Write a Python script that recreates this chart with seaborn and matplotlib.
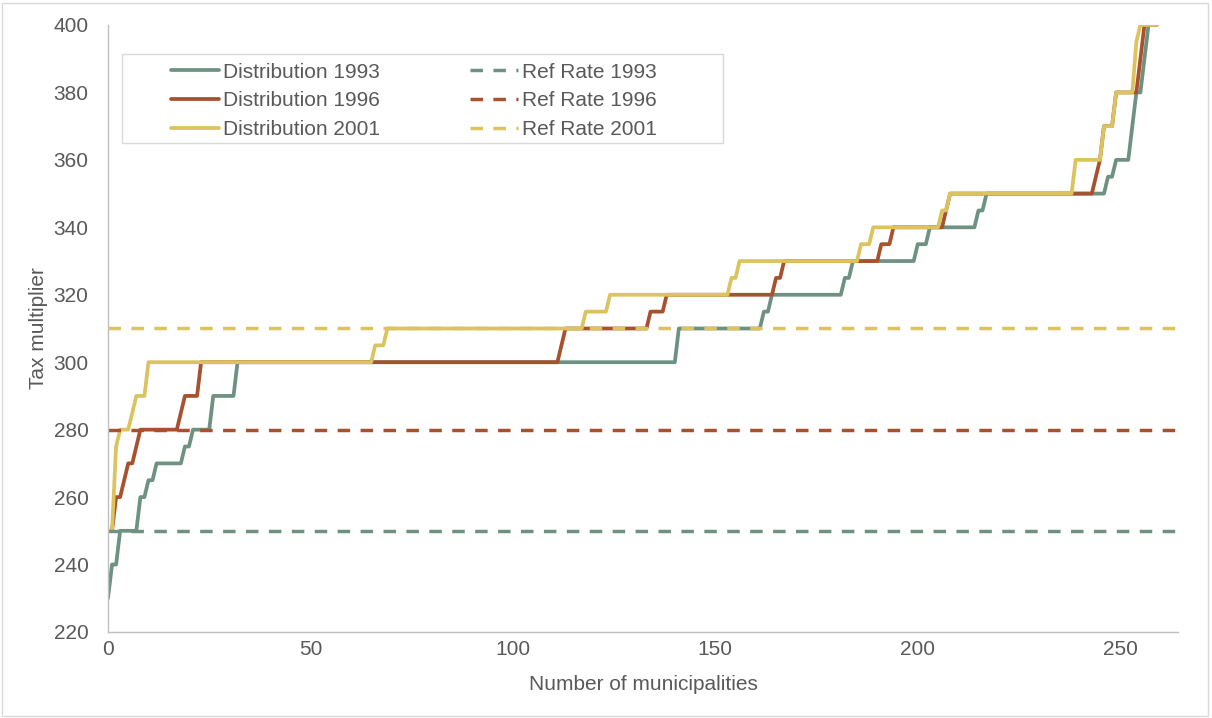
import numpy as np
import pandas as pd
import matplotlib
matplotlib.use("Agg")
import matplotlib.pyplot as plt
from matplotlib.patches import Rectangle
import seaborn as sns

# sorted tax multipliers per year, stored as (level, number of municipalities at that level)
levels_1993 = [230, 240, 250, 260, 265, 270, 275, 280, 290, 300, 310, 315, 320, 325,
               330, 335, 340, 345, 350, 355, 360, 370, 380, 390, 400]
counts_1993 = [1, 2, 5, 2, 2, 7, 2, 5, 6, 109, 21, 2, 18, 2,
               16, 3, 12, 2, 30, 2, 4, 1, 2, 1, 3]

levels_1996 = [250, 260, 265, 270, 275, 280, 285, 290, 300, 305, 310, 315, 320, 325,
               330, 335, 340, 345, 350, 355, 360, 370, 380, 390, 400]
counts_1996 = [2, 2, 1, 2, 1, 10, 1, 4, 89, 1, 21, 4, 27, 2,
               24, 3, 13, 1, 36, 1, 1, 3, 6, 1, 4]

levels_2001 = [250, 275, 280, 285, 290, 300, 305, 310, 315, 320, 325, 330, 335, 340,
               345, 350, 360, 370, 380, 395, 400]
counts_2001 = [2, 1, 3, 1, 3, 56, 3, 49, 6, 30, 2, 30, 3, 17,
               2, 31, 7, 3, 5, 1, 5]

years = ["1993", "1996", "2001"]
ref_rates = [250, 280, 310]
colors = ["#6E9282", "#A8512E", "#DCC35E"]
x_ticks = [0, 50, 100, 150, 200, 250]
y_ticks = [220, 240, 260, 280, 300, 320, 340, 360, 380, 400]

TEXT = "#595959"
FS = 15


def build_frame():
    parts = []
    for year, lv, ct in zip(years, [levels_1993, levels_1996, levels_2001],
                            [counts_1993, counts_1996, counts_2001]):
        vals = np.repeat(lv, ct)
        parts.append(pd.DataFrame({"idx": np.arange(len(vals)),
                                   "mult": vals,
                                   "series": "Distribution " + year}))
    return pd.concat(parts, ignore_index=True)


def main():
    sns.set_theme(style="white")
    plt.rcParams["font.family"] = ["Liberation Sans", "DejaVu Sans"]

    df = build_frame()

    fig = plt.figure(figsize=(12.12, 7.18), dpi=100)
    ax = fig.add_axes([0.0891, 0.1198, 0.9829 - 0.0891 - 0.0109, 0.9652 - 0.1198])

    pal = {"Distribution " + y: c for y, c in zip(years, colors)}
    sns.lineplot(data=df, x="idx", y="mult", hue="series", palette=pal,
                 estimator=None, sort=False, lw=2.7, ax=ax, legend=False)

    dist_handles = list(ax.get_lines())
    ref_handles = []
    for year, rate, c in zip(years, ref_rates, colors):
        h = ax.axhline(rate, color=c, lw=2.5, dashes=(3.6, 3.0))
        ref_handles.append(h)

    ax.set_xlim(0, 264.3)
    ax.set_ylim(220, 400)
    ax.set_xticks(x_ticks)
    ax.set_yticks(y_ticks)
    ax.tick_params(axis="both", length=0, labelsize=FS, colors=TEXT)
    ax.tick_params(axis="y", pad=14)
    ax.tick_params(axis="x", pad=6)

    for side in ["top", "right"]:
        ax.spines[side].set_visible(False)
    for side in ["left", "bottom"]:
        ax.spines[side].set_color("#BFBFBF")
        ax.spines[side].set_linewidth(1.0)

    ax.set_xlabel("Number of municipalities", fontsize=FS, color=TEXT)
    ax.set_ylabel("Tax multiplier", fontsize=FS, color=TEXT)
    ax.xaxis.set_label_coords(0.5, -0.071)
    ax.yaxis.set_label_coords(-0.056, 0.5)

    # legend box drawn separately so it matches the wide framed box of the original
    ax.add_patch(Rectangle((0.0131, 0.8056), 0.5617, 0.1466, transform=ax.transAxes,
                           facecolor="white", edgecolor="#D9D9D9", lw=1.0, zorder=3))
    labels = ["Distribution " + y for y in years] + ["Ref Rate " + y for y in years]
    leg = ax.legend(dist_handles + ref_handles, labels, ncol=2,
                    loc="upper left", bbox_to_anchor=(0.0589, 0.938),
                    frameon=False, fontsize=FS, borderpad=0, borderaxespad=0,
                    handlelength=2.3, handletextpad=0.2, columnspacing=4.3,
                    labelspacing=0.47)
    leg.set_zorder(4)
    for t in leg.get_texts():
        t.set_color(TEXT)

    fig.patches.append(Rectangle((0.002, 0.003), 0.995, 0.993, transform=fig.transFigure,
                                 fill=False, edgecolor="#D9D9D9", lw=1.0))

    fig.savefig("out.png", dpi=100)
    plt.close(fig)


if __name__ == "__main__":
    main()
